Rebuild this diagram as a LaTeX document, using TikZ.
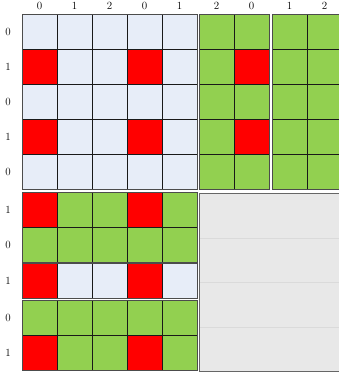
\documentclass[tikz,border=0pt]{standalone}
\usepackage{tikz}
\definecolor{cb}{HTML}{E7EDF8}
\definecolor{cg}{HTML}{92D050}
\definecolor{cr}{HTML}{FF0000}
\definecolor{gbox}{HTML}{E8E8E8}
\definecolor{gline}{HTML}{DADADA}
\tikzset{
  cell/.style={draw=black!90, line width=0.7pt, minimum size=35pt, inner sep=0pt, outer sep=0pt, anchor=north west},
  blockedge/.style={draw=black!70, line width=0.9pt},
  lab/.style={font=\fontsize{11}{13}\selectfont, inner sep=0pt}
}
\newcommand\mkrow[4]{%
  \foreach \f [count=\i from 0] in {#4} {\node[cell,fill=\f] (#1-\i) at ({#2+35*\i},#3) {};}%
}
\begin{document}
\begin{tikzpicture}[x=1pt,y=-1pt]
\useasboundingbox (0,0) rectangle (339,376);
\clip (0,0) rectangle (339,376);
% column labels
\foreach \t/\x [count=\k] in {0/39.5,1/74.5,2/109.5,0/144.5,1/179.5,2/216.5,0/251.5,1/289.5,2/324.5}
  \node[lab] (cl\k) at (\x,6) {\t};
% row labels
\foreach \t/\y [count=\k] in {0/31.5,1/66.5,0/101.5,1/136.5,0/171.5,1/209.5,0/244.5,1/281,0/317.5,1/352.5}
  \node[lab] (rl\k) at (8,\y) {\t};
% top-left block
\mkrow{a0}{22}{14}{cb,cb,cb,cb,cb}
\mkrow{a1}{22}{49}{cr,cb,cb,cr,cb}
\mkrow{a2}{22}{84}{cb,cb,cb,cb,cb}
\mkrow{a3}{22}{119}{cr,cb,cb,cr,cb}
\mkrow{a4}{22}{154}{cb,cb,cb,cb,cb}
\draw[blockedge] (a0-0.north west) rectangle (a4-4.south east);
% top middle block
\mkrow{b0}{199}{14}{cg,cg}
\mkrow{b1}{199}{49}{cg,cr}
\mkrow{b2}{199}{84}{cg,cg}
\mkrow{b3}{199}{119}{cg,cr}
\mkrow{b4}{199}{154}{cg,cg}
\draw[blockedge] (b0-0.north west) rectangle (b4-1.south east);
% top right block
\mkrow{c0}{272}{14}{cg,cg}
\mkrow{c1}{272}{49}{cg,cg}
\mkrow{c2}{272}{84}{cg,cg}
\mkrow{c3}{272}{119}{cg,cg}
\mkrow{c4}{272}{154}{cg,cg}
\draw[blockedge] (c0-0.north west) rectangle (c4-1.south east);
% bottom-left blocks
\mkrow{d0}{22}{192}{cr,cg,cg,cr,cg}
\mkrow{d1}{22}{227}{cg,cg,cg,cg,cg}
\draw[blockedge] (d0-0.north west) rectangle (d1-4.south east);
\mkrow{e0}{22}{263.5}{cr,cb,cb,cr,cb}
\draw[blockedge] (e0-0.north west) rectangle (e0-4.south east);
\mkrow{f0}{22}{300.5}{cg,cg,cg,cg,cg}
\mkrow{f1}{22}{335.5}{cr,cg,cg,cr,cg}
\draw[blockedge] (f0-0.north west) rectangle (f1-4.south east);
% gray panel
\node[fill=gbox, draw=black!60, line width=0.9pt, minimum width=146pt, minimum height=178pt, inner sep=0pt, outer sep=0pt, anchor=north west] (panel) at (199.5,193) {};
\foreach \y in {238,282.5,327}
  \draw[gline, line width=0.6pt] ([yshift=-(\y-193)*1pt]panel.north west) ++(0.5,0) -- ++(145,0);
\end{tikzpicture}
\end{document}
